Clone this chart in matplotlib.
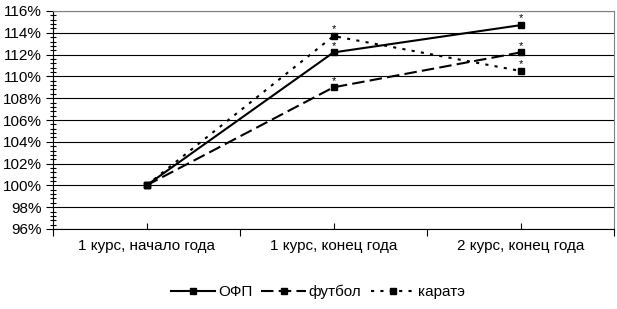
import matplotlib.pyplot as plt
from matplotlib.ticker import MultipleLocator, FuncFormatter

plt.rcParams['font.family'] = ['Liberation Sans', 'DejaVu Sans']

# -----------------------------
# Data
# -----------------------------
categories = ['1 курс, начало года', '1 курс, конец года', '2 курс, конец года']
ofp = [100.0, 112.2, 114.7]
football = [100.0, 109.0, 112.2]
karate = [100.0, 113.7, 110.5]
# which points carry an asterisk (significant change)
marked = [False, True, True]

# -----------------------------
# Plot
# -----------------------------
fig = plt.figure(figsize=(6.17, 3.09), dpi=100)
ax = fig.add_axes([53 / 617, 1 - 229 / 309, 561 / 617, 218 / 309])

x = [i + 0.5 for i in range(len(categories))]
styles = [
    ('ОФП', ofp, '-'),
    ('футбол', football, (0, (6, 2.5))),
    ('каратэ', karate, (0, (1.5, 3))),
]
for name, vals, ls in styles:
    ax.plot(x, vals, color='black', linestyle=ls, linewidth=1.5,
            marker='s', markersize=5, label=name)
    for xi, v, m in zip(x, vals, marked):
        if m:
            ax.text(xi, v + 0.15, '*', ha='center', va='bottom', fontsize=8,
                    zorder=5)

ax.set_xlim(0, 3)
ax.set_ylim(96, 116)
ax.yaxis.set_major_locator(MultipleLocator(2))
ax.yaxis.set_minor_locator(MultipleLocator(0.4))
ax.yaxis.set_major_formatter(FuncFormatter(lambda v, p: f'{v:.0f}%'))
ax.grid(axis='y', which='major', color='black', linewidth=0.8)

ax.set_xticks([0, 1, 2, 3])
ax.set_xticklabels([])
ax.set_xticks(x, minor=True)
ax.set_xticklabels(categories, minor=True)
ax.tick_params(axis='x', which='major', direction='out', length=5, width=0.8)
ax.tick_params(axis='x', which='minor', direction='in', length=4, width=0.8,
               labelsize=11, pad=7)
ax.tick_params(axis='y', which='major', direction='out', length=5, width=0.8,
               labelsize=11, pad=3)
ax.tick_params(axis='y', which='minor', direction='inout', length=5, width=0.8)

ax.spines['top'].set_color('gray')
ax.spines['right'].set_color('gray')
for s in ax.spines.values():
    s.set_linewidth(0.8)

fig.legend(loc='center', bbox_to_anchor=(0.515, 1 - 292 / 309),
           ncol=3, frameon=False, fontsize=11, handlelength=2.9,
           columnspacing=0.6, handletextpad=0.2)

fig.savefig('out.png', dpi=100)
